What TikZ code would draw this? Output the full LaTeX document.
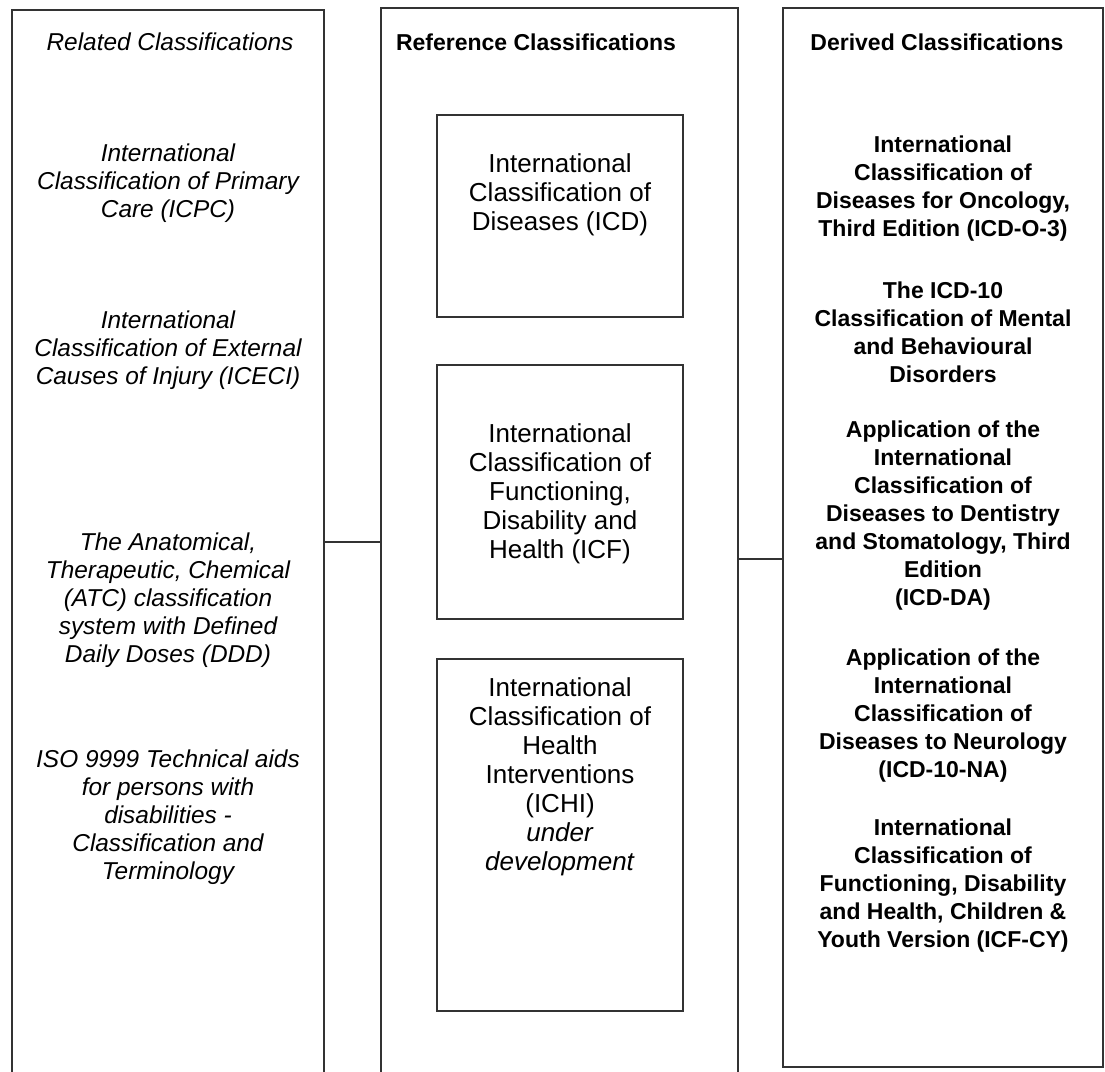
\documentclass[tikz,border=0pt]{standalone}
\usepackage{fontspec}
\setmainfont{Liberation Sans}
\usetikzlibrary{positioning}

\begin{document}
\begin{tikzpicture}[
    x=0.5pt, y=-0.5pt,
    group/.style={rectangle, draw=black!80, line width=1pt, inner sep=0pt},
    refbox/.style={rectangle, draw=black!80, line width=1pt, inner sep=0pt, minimum width=123pt},
    head/.style={font=\fontsize{11.5}{14}\selectfont\bfseries},
    related/.style={align=center, font=\fontsize{12.2}{14}\selectfont\itshape},
    derived/.style={align=center, font=\fontsize{11.5}{14}\selectfont\bfseries},
    big/.style={align=center, font=\fontsize{13}{14.5}\selectfont},
    link/.style={draw=black!80, line width=1pt}
]
\clip (0,0) rectangle (1105,1072);

% columns
\node[group, minimum width=156pt, minimum height=532pt] (rel) at (168,542) {};
\node[group, minimum width=178.5pt, minimum height=551pt] (ref) at (559.5,559) {};
\node[group, minimum width=160pt, minimum height=529.5pt] (der) at (943,537.5) {};

\node[related] (reltitle) at (170,42) {Related Classifications};
\node[head] (reftitle) at (536,42) {Reference Classifications};
\node[head] (dertitle) at (937,42) {Derived Classifications};

% reference boxes
\node[refbox, minimum height=101pt] (icd) at (560,216) {};
\node[refbox, minimum height=127pt, below=23pt of icd] (icf) {};
\node[refbox, minimum height=176pt, below=19pt of icf] (ichi) {};

\node[big] (icdtext) at (560,195) {International\\Classification of\\Diseases (ICD)};
\node[big] (icftext) at (560,494) {International\\Classification of\\Functioning,\\Disability and\\Health (ICF)};
\node[big] (ichitext) at (560,777) {International\\Classification of\\Health\\Interventions\\(ICHI)\\\textit{under}\\\textit{development}};

% related
\node[related] (icpc) at (168,183) {International\\Classification of Primary\\Care (ICPC)};
\node[related] (iceci) at (168,350) {International\\Classification of External\\Causes of Injury (ICECI)};
\node[related] (atc) at (168,600) {The Anatomical,\\Therapeutic, Chemical\\(ATC) classification\\system with Defined\\Daily Doses (DDD)};
\node[related] (iso) at (168,817) {ISO 9999 Technical aids\\for persons with\\disabilities -\\Classification and\\Terminology};

% derived
\node[derived] (icdo) at (943,189) {International\\Classification of\\Diseases for Oncology,\\Third Edition (ICD-O-3)};
\node[derived] (mental) at (943,332) {The ICD-10\\Classification of Mental\\and Behavioural\\Disorders};
\node[derived] (icdda) at (943,516) {Application of the\\International\\Classification of\\Diseases to Dentistry\\and Stomatology, Third\\Edition\\(ICD-DA)};
\node[derived] (icdna) at (943,716) {Application of the\\International\\Classification of\\Diseases to Neurology\\(ICD-10-NA)};
\node[derived] (icfcy) at (943,886) {International\\Classification of\\Functioning, Disability\\and Health, Children \&\\Youth Version (ICF-CY)};

\draw[link] (rel.east) -- (rel.east -| ref.west);
\draw[link] (ref.east) -- (ref.east -| der.west);
\end{tikzpicture}
\end{document}
